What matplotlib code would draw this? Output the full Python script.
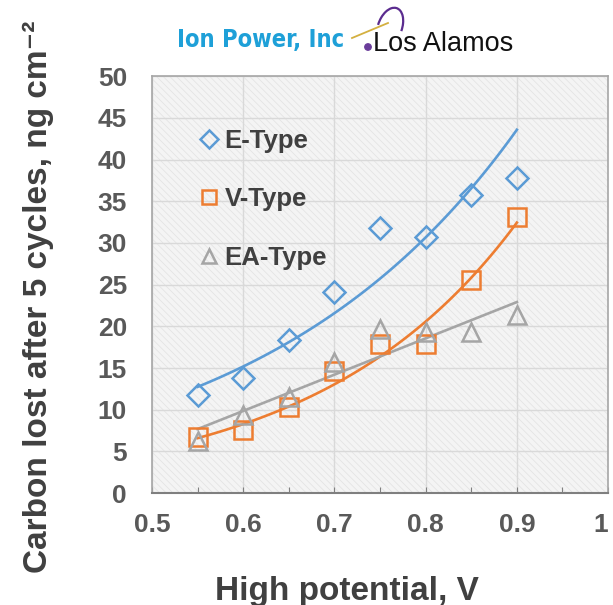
import numpy as np
import matplotlib
matplotlib.use("Agg")
import matplotlib.pyplot as plt
from matplotlib.lines import Line2D
from matplotlib.patches import Rectangle, Arc, Circle
from matplotlib.transforms import IdentityTransform

plt.rcParams['font.family'] = ['Liberation Sans', 'DejaVu Sans']
plt.rcParams['hatch.linewidth'] = 0.6

# data
potential = [0.55, 0.60, 0.65, 0.70, 0.75, 0.80, 0.85, 0.90]
e_type = [11.75, 13.8, 18.4, 24.1, 31.8, 30.7, 35.8, 37.8]
v_type = [6.7, 7.55, 10.35, 14.7, 17.9, 17.9, 25.6, 33.1]
ea_type = [6.2, 9.35, 11.5, 15.7, 19.7, 19.3, 19.3, 21.3]
labels = ["E-Type", "V-Type", "EA-Type"]
xtick_labels = ["0.5", "0.6", "0.7", "0.8", "0.9", "1"]

blue, orange, gray = "#5b9bd5", "#ed7d31", "#a5a5a5"
txt = "#595959"

fig = plt.figure(figsize=(6.13, 6.05), dpi=100)
ax = fig.add_axes([0.248, 0.185, 0.744, 0.689])

# hatched plot-area background
ax.add_patch(Rectangle((0, 0), 1, 1, transform=ax.transAxes, facecolor="#f4f4f4",
                       edgecolor="#e4e4e4", hatch="\\\\\\\\\\", lw=0, zorder=0))

# trendlines: exponential for E and V, linear for EA
x = np.array(potential)
xf = np.linspace(0.55, 0.90, 100)
pe = np.polyfit(x, np.log(e_type), 1)
pv = np.polyfit(x, np.log(v_type), 1)
pa = np.polyfit(x, ea_type, 1)
ax.plot(xf, np.exp(np.polyval(pe, xf)), color=blue, lw=1.9, zorder=3)
ax.plot(xf, np.exp(np.polyval(pv, xf)), color=orange, lw=1.9, zorder=3)
ax.plot(xf, np.polyval(pa, xf), color=gray, lw=1.9, zorder=3)

ax.plot(x, e_type, "D", ms=11, mfc="none", mec=blue, mew=1.8, zorder=4)
ax.plot(x, v_type, "s", ms=12.5, mfc="none", mec=orange, mew=1.8, zorder=4)
ax.plot(x, ea_type, "^", ms=13, mfc="none", mec=gray, mew=1.8, zorder=4)

ax.set_xlim(0.5, 1.0)
ax.set_ylim(0, 50)
ax.set_xticks([0.5, 0.6, 0.7, 0.8, 0.9, 1.0])
ax.set_xticklabels(xtick_labels)
ax.set_xticks(np.arange(0.55, 1.0, 0.1), minor=True)
ax.set_yticks(range(0, 51, 5))
ax.grid(True, color="#d9d9d9", lw=1.0, zorder=1)
ax.set_axisbelow(True)
ax.tick_params(axis="x", which="both", direction="in", length=4, width=0.8,
               color="#808080", pad=14, labelsize=19, labelcolor=txt)
ax.tick_params(axis="y", length=0, pad=18, labelsize=19, labelcolor=txt)
for lab in ax.get_xticklabels() + ax.get_yticklabels():
    lab.set_fontweight("bold")
ax.get_xticklabels()[-1].set_ha("right")
for side in ["top", "left", "right"]:
    ax.spines[side].set_color("#a6a6a6")
    ax.spines[side].set_linewidth(1.2)
ax.spines["bottom"].set_color("#7f7f7f")
ax.spines["bottom"].set_linewidth(1.5)

ax.set_xlabel("High potential, V", fontsize=24, fontweight="bold", color="#404040", va="center")
ax.xaxis.set_label_coords(0.428, -0.235)
ax.set_ylabel("Carbon lost after 5 cycles, ng cm\u207b\u00b2", fontsize=24,
              fontweight="bold", color="#404040", va="center")
ax.yaxis.set_label_coords(-0.25, 0.472)

handles = [Line2D([], [], ls="none", marker="D", ms=9.5, mfc="none", mec=blue, mew=1.8),
           Line2D([], [], ls="none", marker="s", ms=10.5, mfc="none", mec=orange, mew=1.8),
           Line2D([], [], ls="none", marker="^", ms=10.5, mfc="none", mec=gray, mew=1.8)]
leg = ax.legend(handles, labels, loc="upper left", bbox_to_anchor=(0.08, 0.898),
                frameon=False, fontsize=18.5, labelspacing=1.34, handlelength=0.8,
                handletextpad=0.2, borderaxespad=0)
for t in leg.get_texts():
    t.set_color("#404040")
    t.set_fontweight("bold")

# header logos
fig.text(177 / 613, 1 - 40 / 605, "Ion Power, Inc", fontsize=17, fontweight="bold",
         family="DejaVu Sans", stretch="condensed", color="#1ea0d8",
         va="center", ha="left")
fig.text(373 / 613, 1 - 44 / 605, "Los Alamos", fontsize=19.5, color="#111111",
         va="center", ha="left")
H = 605
fig.add_artist(Arc((390, H - 27), 24, 40, angle=-20, theta1=0, theta2=190,
                   color="#5b2c8f", lw=1.6, transform=IdentityTransform()))
fig.add_artist(Line2D([352, 388], [H - 38, H - 23], color="#d4b040", lw=1.3,
                      transform=IdentityTransform()))
fig.add_artist(Circle((368, H - 47), 3.2, color="#6a3d9a", transform=IdentityTransform()))

fig.savefig("out.png", dpi=100)
